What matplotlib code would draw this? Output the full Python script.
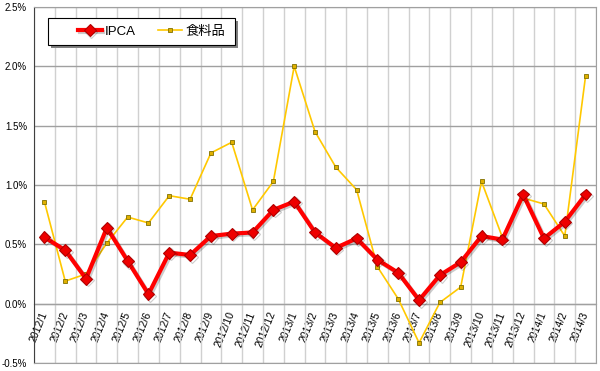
import numpy as np
import matplotlib.pyplot as plt
import matplotlib.patheffects as pe
from matplotlib.patches import Rectangle

plt.rcParams['font.family'] = ['Liberation Sans', 'Noto Sans CJK JP']

# Dados (variação mensal, %)
meses = ['2012/1', '2012/2', '2012/3', '2012/4', '2012/5', '2012/6', '2012/7', '2012/8',
         '2012/9', '2012/10', '2012/11', '2012/12', '2013/1', '2013/2', '2013/3', '2013/4',
         '2013/5', '2013/6', '2013/7', '2013/8', '2013/9', '2013/10', '2013/11', '2013/12',
         '2014/1', '2014/2', '2014/3']
ipca = [0.56, 0.45, 0.21, 0.64, 0.36, 0.08, 0.43, 0.41, 0.57, 0.59, 0.60, 0.79,
        0.86, 0.60, 0.47, 0.55, 0.37, 0.26, 0.03, 0.24, 0.35, 0.57, 0.54, 0.92,
        0.55, 0.69, 0.92]
alimentos = [0.86, 0.19, 0.25, 0.51, 0.73, 0.68, 0.91, 0.88, 1.27, 1.36, 0.79, 1.03,
             2.00, 1.45, 1.15, 0.96, 0.31, 0.04, -0.33, 0.01, 0.14, 1.03, 0.56, 0.89,
             0.84, 0.57, 1.92]
nomes = ['IPCA', '食料品']

x = np.arange(len(meses))

fig = plt.figure(figsize=(6, 3.71), dpi=100)
ax = fig.add_axes([34/600, 8/371, 562/600, 356/371])

ax.set_xlim(-0.5, len(meses) - 0.5)
ax.set_ylim(-0.5, 2.5)

# grade
ax.set_xticks(np.arange(-0.5, len(meses)), minor=True)
ax.set_xticks([])
ax.grid(True, which='minor', axis='x', color='#d0d0d0', lw=1)
yt = np.arange(-0.5, 2.51, 0.5)
ax.set_yticks(yt)
ax.set_yticklabels([f'{v:.1f}%' for v in yt], fontsize=7)
ax.grid(True, which='major', axis='y', color='#a0a0a0', lw=1)
ax.tick_params(axis='x', which='minor', length=0)
ax.tick_params(axis='y', length=0, pad=5)
for s in ['top', 'right', 'bottom']:
    ax.spines[s].set_color('#a0a0a0')
ax.spines['left'].set_color('#404040')
ax.set_axisbelow(True)

# eixo do zero com os rótulos
zero = ax.secondary_xaxis(0.5 / 3.0)
zero.set_xticks(x)
zero.set_xticklabels(meses, rotation=68, ha='right', va='center',
                     rotation_mode='anchor', fontsize=7.5)
zero.tick_params(length=0, pad=6)
zero.spines['bottom'].set_color('#404040')

ax.plot(x, alimentos, color='#FFC800', lw=1.2, marker='s', ms=3.5,
        mfc='#E0B000', mec='#807000', mew=0.6, label=nomes[1], zorder=3)
ax.plot(x, ipca, color='#FF0000', lw=3, marker='D', ms=6,
        mfc='#EE0000', mec='#B00000', mew=0.8, label=nomes[0], zorder=4,
        path_effects=[pe.SimpleLineShadow(offset=(1.2, -1.2), alpha=0.2), pe.Normal()])

# caixa da legenda (com sombra)
x0, y0, w, hh = 0.025, 0.893, 0.333, 0.076
ax.add_patch(Rectangle((x0 + 0.005, y0 - 0.009), w, hh, transform=ax.transAxes,
                       facecolor='#808080', edgecolor='none', zorder=5))
ax.add_patch(Rectangle((x0, y0), w, hh, transform=ax.transAxes,
                       facecolor='white', edgecolor='black', lw=0.8, zorder=6))

h, l = ax.get_legend_handles_labels()
leg = ax.legend(h[::-1], l[::-1], ncol=2, loc='center left',
                bbox_to_anchor=(0.078, y0 + hh / 2), frameon=False, fontsize=9.5,
                handlelength=1.8, columnspacing=1.7, borderpad=0,
                borderaxespad=0, handletextpad=0.25)
leg.set_zorder(7)

fig.savefig('out.png', dpi=100)
